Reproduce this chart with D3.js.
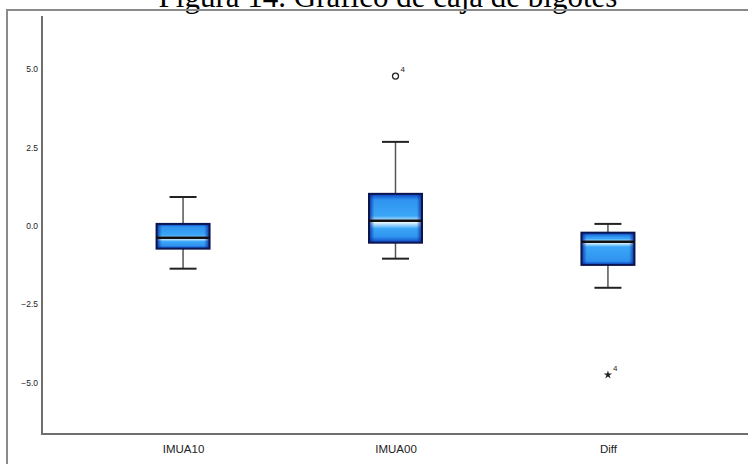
<!DOCTYPE html>
<html>
<head>
<meta charset="utf-8">
<script src="https://cdn.jsdelivr.net/npm/d3@7"></script>
<style>
body { margin: 0; background: #fff; }
svg { display: block; }
</style>
</head>
<body>
<div id="chart"></div>
<script>
// box plot values
var categories = ["IMUA10", "IMUA00", "Diff"];
var whiskerLow = [-1.37, -1.05, -1.98];
var q1 = [-0.73, -0.54, -1.25];
var median = [-0.38, 0.16, -0.51];
var q3 = [0.06, 1.02, -0.22];
var whiskerHigh = [0.92, 2.68, 0.06];
var outliers = [
    {cat: "IMUA00", value: 4.78, label: "4", type: "circle"},
    {cat: "Diff", value: -4.76, label: "4", type: "star"}
];
var yTicks = [-5, -2.5, 0, 2.5, 5];

var width = 748, height = 464;
var plot = {left: 42, top: 16, right: 749, bottom: 434};

var svg = d3.select("#chart")
    .append("svg")
    .attr("width", width)
    .attr("height", height);

var defs = svg.append("defs");

// title, clipped at the top of the page as in the source
svg.append("text")
    .attr("x", 388)
    .attr("y", 6.5)
    .attr("text-anchor", "middle")
    .style("font-family", "'Liberation Serif', 'Times New Roman', serif")
    .style("font-size", "31px")
    .style("fill", "#000")
    .text("Figura 14. Gráfico de caja de bigotes");

// outer frame
svg.append("rect")
    .attr("x", 7)
    .attr("y", 10)
    .attr("width", 760)
    .attr("height", 470)
    .attr("fill", "none")
    .attr("stroke", "#8a8a8a")
    .attr("stroke-width", 2);

var y = d3.scaleLinear()
    .domain([-6.65, 6.7])
    .range([plot.bottom, plot.top]);

var x = d3.scalePoint()
    .domain(categories)
    .range([plot.left, plot.right])
    .padding(0.664);

var boxW = 53, capW = 27;

// axes
var yAxis = svg.append("g")
    .attr("transform", `translate(${plot.left},0)`)
    .call(d3.axisLeft(y).tickValues(yTicks).tickSize(0).tickPadding(4).tickFormat(d3.format(".1f")));
yAxis.select(".domain").remove();
yAxis.selectAll("text")
    .style("font-family", "'Liberation Sans', Arial, sans-serif")
    .style("font-size", "8.5px")
    .style("fill", "#222");

var xAxis = svg.append("g")
    .attr("transform", `translate(0,${plot.bottom})`)
    .call(d3.axisBottom(x).tickSize(0).tickPadding(11));
xAxis.select(".domain").remove();
xAxis.selectAll("text")
    .style("font-family", "'Liberation Sans', Arial, sans-serif")
    .style("font-size", "11.5px")
    .style("fill", "#222");

svg.append("line")
    .attr("x1", plot.left).attr("x2", plot.left)
    .attr("y1", plot.top).attr("y2", plot.bottom + 1)
    .attr("stroke", "#6f6f6f").attr("stroke-width", 2);
svg.append("line")
    .attr("x1", plot.left - 1).attr("x2", width)
    .attr("y1", plot.bottom).attr("y2", plot.bottom)
    .attr("stroke", "#6f6f6f").attr("stroke-width", 2);

var boxes = categories.map(function(c, i) {
    return {cat: c, lo: whiskerLow[i], q1: q1[i], med: median[i], q3: q3[i], hi: whiskerHigh[i], i: i};
});

// edge shading gradient (horizontal)
var side = defs.append("linearGradient")
    .attr("id", "side")
    .attr("x1", 0).attr("x2", 1).attr("y1", 0).attr("y2", 0);
side.append("stop").attr("offset", 0).attr("stop-color", "#0a2a9a").attr("stop-opacity", 0.9);
side.append("stop").attr("offset", 0.1).attr("stop-color", "#0a2a9a").attr("stop-opacity", 0);
side.append("stop").attr("offset", 0.9).attr("stop-color", "#0a2a9a").attr("stop-opacity", 0);
side.append("stop").attr("offset", 1).attr("stop-color", "#0a2a9a").attr("stop-opacity", 0.9);

// vertical fill gradient with highlight at the median
boxes.forEach(function(d) {
    var top = y(d.q3), bot = y(d.q1), m = (y(d.med) - top) / (bot - top);
    var g = defs.append("linearGradient")
        .attr("id", "fill" + d.i)
        .attr("x1", 0).attr("x2", 0).attr("y1", 0).attr("y2", 1);
    var stops = [
        [0, "#0b3fc0"],
        [0.12, "#2f93ef"],
        [Math.max(0.15, m - 0.1), "#3aa6f7"],
        [m + 0.03, "#eefbff"],
        [Math.min(0.85, m + 0.16), "#3aa6f7"],
        [0.88, "#2f93ef"],
        [1, "#0b3fc0"]
    ];
    stops.forEach(function(s) {
        g.append("stop").attr("offset", s[0]).attr("stop-color", s[1]);
    });
});

var bg = svg.append("g").selectAll("g")
    .data(boxes)
    .enter()
    .append("g");

// whisker stems
bg.append("line")
    .attr("x1", d => x(d.cat)).attr("x2", d => x(d.cat))
    .attr("y1", d => y(d.hi)).attr("y2", d => y(d.q3))
    .attr("stroke", "#555").attr("stroke-width", 1.5);
bg.append("line")
    .attr("x1", d => x(d.cat)).attr("x2", d => x(d.cat))
    .attr("y1", d => y(d.q1)).attr("y2", d => y(d.lo))
    .attr("stroke", "#555").attr("stroke-width", 1.5);

// caps
bg.append("line")
    .attr("x1", d => x(d.cat) - capW / 2).attr("x2", d => x(d.cat) + capW / 2)
    .attr("y1", d => y(d.hi)).attr("y2", d => y(d.hi))
    .attr("stroke", "#222").attr("stroke-width", 2);
bg.append("line")
    .attr("x1", d => x(d.cat) - capW / 2).attr("x2", d => x(d.cat) + capW / 2)
    .attr("y1", d => y(d.lo)).attr("y2", d => y(d.lo))
    .attr("stroke", "#222").attr("stroke-width", 2);

// boxes
bg.append("rect")
    .attr("x", d => x(d.cat) - boxW / 2)
    .attr("y", d => y(d.q3))
    .attr("width", boxW)
    .attr("height", d => y(d.q1) - y(d.q3))
    .attr("fill", d => "url(#fill" + d.i + ")");
bg.append("rect")
    .attr("x", d => x(d.cat) - boxW / 2)
    .attr("y", d => y(d.q3))
    .attr("width", boxW)
    .attr("height", d => y(d.q1) - y(d.q3))
    .attr("fill", "url(#side)")
    .attr("stroke", "#0b1550")
    .attr("stroke-width", 2);

// medians
bg.append("line")
    .attr("x1", d => x(d.cat) - boxW / 2).attr("x2", d => x(d.cat) + boxW / 2)
    .attr("y1", d => y(d.med)).attr("y2", d => y(d.med))
    .attr("stroke", "#111").attr("stroke-width", 2.5);

// outliers
var og = svg.append("g").selectAll("g")
    .data(outliers)
    .enter()
    .append("g")
    .attr("transform", d => `translate(${x(d.cat)},${y(d.value)})`);

og.filter(d => d.type === "circle")
    .append("circle")
    .attr("r", 3)
    .attr("fill", "#fff")
    .attr("stroke", "#222")
    .attr("stroke-width", 1.3);

og.filter(d => d.type === "star")
    .append("path")
    .attr("d", d3.symbol().type(d3.symbolStar).size(22))
    .attr("fill", "#222");

og.append("text")
    .attr("x", 5)
    .attr("y", -4)
    .style("font-family", "'Liberation Sans', Arial, sans-serif")
    .style("font-size", "8px")
    .style("fill", "#222")
    .text(d => d.label);
</script>
</body>
</html>
